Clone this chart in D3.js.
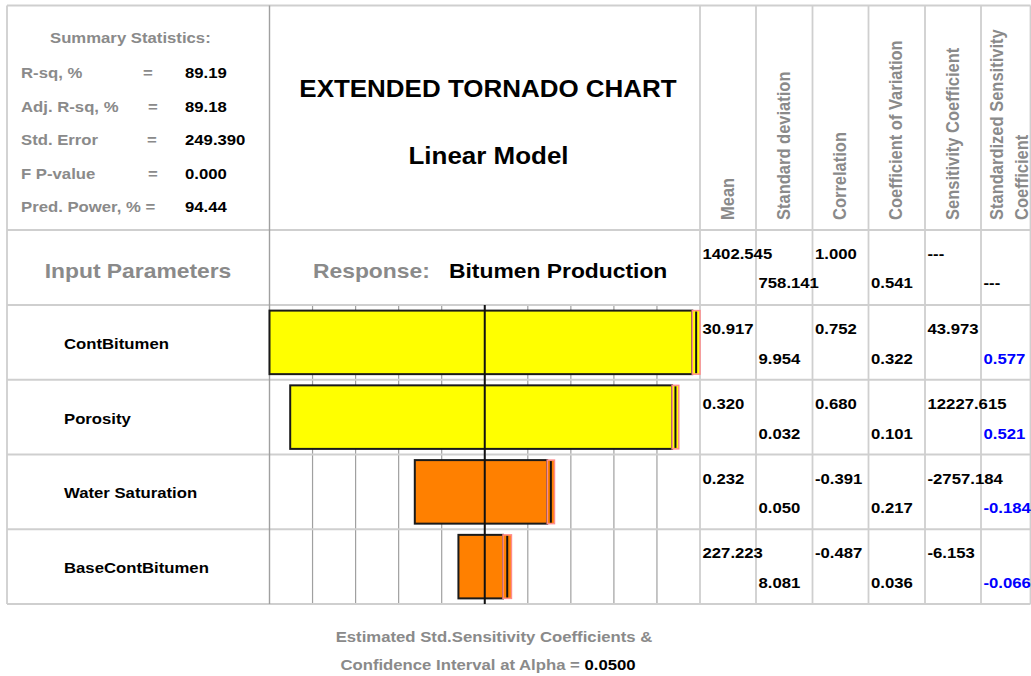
<!DOCTYPE html>
<html>
<head>
<meta charset="utf-8">
<script src="https://cdn.jsdelivr.net/npm/d3@7"></script>
<style>
  html, body { margin: 0; padding: 0; background: #fff; }
  svg { display: block; }
  text { font-family: "Liberation Sans", Arial, Helvetica, sans-serif; font-weight: bold; }
</style>
</head>
<body>
<svg id="chart" width="1031" height="676"></svg>
<script>
// ---- Summary statistics ----
const summaryLabels = ["R-sq, %", "Adj. R-sq, %", "Std. Error", "F P-value", "Pred. Power, % ="];
const summaryValues = ["89.19", "89.18", "249.390", "0.000", "94.44"];

// ---- Input parameters and their statistics ----
const params = ["ContBitumen", "Porosity", "Water Saturation", "BaseContBitumen"];
const means = ["30.917", "0.320", "0.232", "227.223"];
const stdDevs = ["9.954", "0.032", "0.050", "8.081"];
const correlations = ["0.752", "0.680", "-0.391", "-0.487"];
const coefVariation = ["0.322", "0.101", "0.217", "0.036"];
const sensCoef = ["43.973", "12227.615", "-2757.184", "-6.153"];
const stdSensCoef = [0.577, 0.521, -0.184, -0.066];
// confidence interval of the standardized coefficients (alpha = 0.05)
const ciLow = [0.5718, 0.5165, -0.1791, -0.0603];
const ciHigh = [0.5822, 0.5255, -0.1889, -0.0717];

// ---- Response row ----
const responseName = "Bitumen Production";
const responseStats = ["1402.545", "758.141", "1.000", "0.541", "---", "---"];

// ---- Column headers ----
const columnHeaders = [["Mean"], ["Standard deviation"], ["Correlation"],
  ["Coefficient of Variation"], ["Sensitivity Coefficient"],
  ["Standardized Sensitivity", "Coefficient"]];

const alpha = "0.0500";

// ---- Layout ----
const SX = 1.115;            // horizontal glyph stretch of the report font
const GRAY = "#8a8a8a";
const LINE = "#cfcfcf";
const GRID = "#a0a0a0";
const tblLeft = 7, tblRight = 1030.5, tblTop = 5.5;
const headerBottom = 230, responseBottom = 305, tblBottom = 604;
const labelColRight = 269.5, chartRight = 700;
const colEdges = [700, 756, 812.5, 868.5, 925, 981, 1030.5];

const svg = d3.select("#chart");

function txt(px, py, s, o = {}) {
  return svg.append("text")
    .attr("transform", `translate(${px},${py}) scale(${SX},1)` + (o.rotate ? " rotate(-90)" : ""))
    .attr("font-size", o.size || 15)
    .attr("fill", o.fill || "#000")
    .attr("text-anchor", o.anchor || "start")
    .text(s);
}

// ---- Table rules ----
const y = d3.scaleBand().domain(params).range([responseBottom, tblBottom])
  .paddingInner(0.15).paddingOuter(0.075);
const rowTop = p => y(p) - y.step() * y.paddingInner() / 2;
const hLines = [tblTop, headerBottom, responseBottom];
params.forEach((p, i) => hLines.push(responseBottom + (i + 1) * y.step()));

// chart grid (10 equal divisions of the plot width)
const grid = d3.range(11).map(i => labelColRight + i * (chartRight - labelColRight) / 10);
svg.append("g").selectAll("line").data(grid.slice(1, 10)).join("line")
  .attr("x1", d => d).attr("x2", d => d).attr("y1", responseBottom).attr("y2", tblBottom)
  .attr("stroke", GRID).attr("stroke-width", 1.2);

svg.append("g").selectAll("line").data(hLines).join("line")
  .attr("x1", tblLeft).attr("x2", tblRight).attr("y1", d => d).attr("y2", d => d)
  .attr("stroke", LINE).attr("stroke-width", 2);

svg.append("g").selectAll("line").data([tblLeft, ...colEdges]).join("line")
  .attr("x1", d => d).attr("x2", d => d).attr("y1", tblTop).attr("y2", tblBottom)
  .attr("stroke", LINE).attr("stroke-width", 1.8);

svg.append("line").attr("x1", labelColRight).attr("x2", labelColRight)
  .attr("y1", tblTop).attr("y2", tblBottom).attr("stroke", GRID).attr("stroke-width", 1.4);

// ---- Tornado bars ----
const mag = stdSensCoef.map(Math.abs);
const maxC = d3.max(mag);
const xMax = d3.max(mag.map((m, i) => Math.abs(ciHigh[i]) - m / 2));
const x = d3.scaleLinear().domain([-maxC / 2, xMax]).range([labelColRight, chartRight]);
const barColor = c => c >= 0 ? "#ffff00" : "#ff8000";

const bars = svg.append("g");
params.forEach((p, i) => {
  const m = mag[i];
  const lo = Math.abs(ciLow[i]), hi = Math.abs(ciHigh[i]);
  const ciL = x(-m / 2 + lo), ciR = x(-m / 2 + hi);
  bars.append("rect")
    .attr("x", x(-m / 2)).attr("y", y(p))
    .attr("width", ciL - x(-m / 2)).attr("height", y.bandwidth())
    .attr("fill", barColor(stdSensCoef[i])).attr("stroke", "#1a1a1a").attr("stroke-width", 2);
  bars.append("rect")
    .attr("x", ciL).attr("y", y(p))
    .attr("width", ciR - ciL).attr("height", y.bandwidth())
    .attr("fill", barColor(stdSensCoef[i])).attr("stroke", "#ff8c8c").attr("stroke-width", 1.5);
  bars.append("line")
    .attr("x1", x(m / 2)).attr("x2", x(m / 2))
    .attr("y1", y(p) + 1).attr("y2", y(p) + y.bandwidth() - 1)
    .attr("stroke", "#111").attr("stroke-width", 2);
});

// centre line of the plot
const cx = (labelColRight + chartRight) / 2;
svg.append("line").attr("x1", cx).attr("x2", cx).attr("y1", responseBottom).attr("y2", tblBottom)
  .attr("stroke", "#111").attr("stroke-width", 2);

// ---- Summary block ----
txt(50, 43, "Summary Statistics:", { fill: GRAY });
const sumY = [78, 111.7, 145, 178.5, 212];
const eqX = [143, 148, 147, 148, null];
summaryLabels.forEach((s, i) => {
  txt(21, sumY[i], s, { fill: GRAY });
  if (eqX[i] !== null) txt(eqX[i], sumY[i], "=", { fill: GRAY });
  txt(185, sumY[i], summaryValues[i]);
});

// ---- Titles ----
txt(488, 97, "EXTENDED TORNADO CHART", { size: 23.3, anchor: "middle" });
txt(488.5, 164, "Linear Model", { size: 23.3, anchor: "middle" });

// ---- Column headers (rotated) ----
columnHeaders.forEach((lines, i) => {
  const c = (colEdges[i] + colEdges[i + 1]) / 2;
  const base = lines.length === 1 ? c + 5.5 : c - 3;
  lines.forEach((s, k) => txt(base + k * 25, 220, s, { size: 16.5, fill: GRAY, rotate: true }));
});

// ---- Response row ----
txt(138, 278, "Input Parameters", { size: 20.5, fill: GRAY, anchor: "middle" });
txt(313, 278, "Response:", { size: 20.5, fill: GRAY });
txt(449, 278, responseName, { size: 20.5 });

const valueX = colEdges.slice(0, 6).map(e => e + 2.5);
const line1 = 29, line2 = 58.8;
responseStats.forEach((s, k) => {
  txt(valueX[k], headerBottom + (k % 2 === 0 ? line1 - 0.5 : line2 - 0.5), s);
});

// ---- Parameter rows ----
const columns = [means, stdDevs, correlations, coefVariation, sensCoef];
params.forEach((p, i) => {
  const t = rowTop(p);
  txt(64, y(p) + y.bandwidth() / 2 + 6.5, p);
  columns.forEach((col, k) => {
    txt(valueX[k], t + (k % 2 === 0 ? line1 : line2), col[i]);
  });
  txt(valueX[5], t + line2, d3.format(".3f")(stdSensCoef[i]).replace("−", "-"), { fill: "#0000ff" });
});

// ---- Footnote ----
txt(494, 641.5, "Estimated Std.Sensitivity Coefficients &", { fill: GRAY, anchor: "middle" });
const foot = txt(488, 670, "", { anchor: "middle" });
foot.append("tspan").attr("fill", GRAY).text("Confidence Interval at Alpha = ");
foot.append("tspan").attr("fill", "#000").text(alpha);
</script>
</body>
</html>
